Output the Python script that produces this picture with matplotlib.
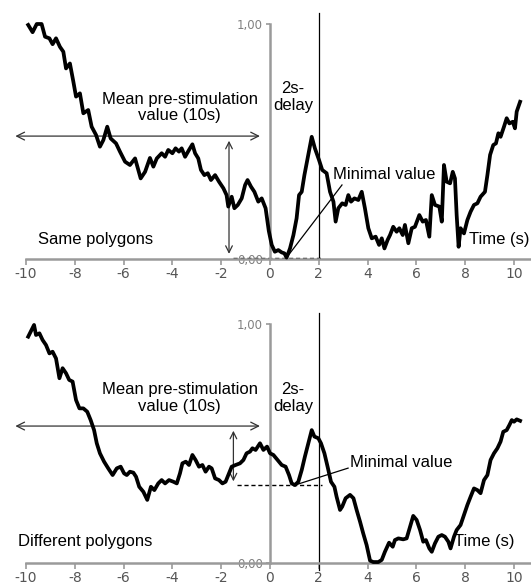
import matplotlib.pyplot as plt
import numpy as np

# time axis (s) and normalised signal for the two conditions
same_t = [-9.91, -9.73, -9.56, -9.36, -9.22, -9.04, -8.91, -8.77, -8.61, -8.47, -8.36, -8.20, -8.06, -7.95,
          -7.79, -7.65, -7.45, -7.31, -7.13, -6.97, -6.83, -6.67, -6.53, -6.31, -6.15, -5.94, -5.74, -5.53,
          -5.30, -5.12, -4.92, -4.78, -4.64, -4.44, -4.30, -4.17, -4.00, -3.87, -3.73, -3.62, -3.48, -3.32,
          -3.18, -3.07, -2.94, -2.83, -2.69, -2.55, -2.42, -2.25, -2.09, -1.91, -1.78, -1.71, -1.57, -1.46,
          -1.32, -1.16, -1.02, -0.92, -0.78, -0.64, -0.48, -0.34, -0.18, -0.05, 0.07, 0.20, 0.34, 0.48,
          0.59, 0.68, 0.82, 0.96, 1.09, 1.19, 1.30, 1.41, 1.54, 1.71, 1.84, 2.01, 2.14, 2.32, 2.46, 2.60,
          2.69, 2.80, 2.96, 3.10, 3.21, 3.32, 3.46, 3.62, 3.76, 3.89, 4.03, 4.17, 4.33, 4.47, 4.58, 4.69,
          4.82, 4.92, 5.05, 5.19, 5.30, 5.44, 5.53, 5.67, 5.81, 5.94, 6.12, 6.26, 6.39, 6.53, 6.63, 6.76,
          6.94, 7.04, 7.13, 7.24, 7.38, 7.49, 7.58, 7.65, 7.73, 7.81, 7.95, 8.09, 8.22, 8.36, 8.50, 8.63,
          8.81, 8.91, 9.02, 9.15, 9.26, 9.36, 9.45, 9.59, 9.70, 9.81, 9.95, 10.04, 10.11, 10.25]
same_v = [0.996, 0.965, 1.000, 1.000, 0.946, 0.939, 0.914, 0.939, 0.903, 0.882, 0.811, 0.832, 0.755, 0.691,
          0.705, 0.620, 0.634, 0.563, 0.528, 0.478, 0.506, 0.563, 0.513, 0.492, 0.457, 0.414, 0.400, 0.428,
          0.343, 0.371, 0.430, 0.393, 0.428, 0.450, 0.435, 0.464, 0.450, 0.471, 0.457, 0.471, 0.435, 0.464,
          0.488, 0.450, 0.428, 0.379, 0.357, 0.365, 0.336, 0.357, 0.329, 0.301, 0.272, 0.223, 0.265, 0.216,
          0.230, 0.258, 0.315, 0.336, 0.308, 0.286, 0.244, 0.258, 0.216, 0.120, 0.060, 0.031, 0.038, 0.028,
          0.024, 0.006, 0.045, 0.102, 0.173, 0.272, 0.286, 0.357, 0.428, 0.520, 0.471, 0.421, 0.379, 0.365,
          0.286, 0.244, 0.159, 0.216, 0.237, 0.230, 0.272, 0.244, 0.258, 0.251, 0.286, 0.216, 0.131, 0.088,
          0.095, 0.060, 0.088, 0.045, 0.081, 0.102, 0.137, 0.116, 0.131, 0.102, 0.145, 0.067, 0.131, 0.137,
          0.187, 0.159, 0.166, 0.095, 0.272, 0.230, 0.223, 0.159, 0.400, 0.329, 0.322, 0.371, 0.343, 0.187,
          0.052, 0.131, 0.109, 0.166, 0.201, 0.230, 0.237, 0.265, 0.286, 0.357, 0.443, 0.485, 0.492, 0.535,
          0.520, 0.563, 0.599, 0.577, 0.584, 0.556, 0.627, 0.669]

diff_t = [-9.91, -9.77, -9.67, -9.59, -9.45, -9.32, -9.18, -9.04, -8.91, -8.77, -8.63, -8.50, -8.36, -8.23,
          -8.09, -7.95, -7.81, -7.65, -7.49, -7.35, -7.21, -7.10, -6.97, -6.80, -6.63, -6.45, -6.28, -6.12,
          -5.98, -5.87, -5.74, -5.60, -5.49, -5.36, -5.19, -5.03, -4.88, -4.74, -4.58, -4.44, -4.30, -4.14,
          -3.96, -3.82, -3.69, -3.59, -3.45, -3.32, -3.18, -3.05, -2.91, -2.77, -2.64, -2.50, -2.39, -2.25,
          -2.09, -1.95, -1.82, -1.71, -1.57, -1.41, -1.23, -1.09, -0.96, -0.82, -0.72, -0.59, -0.41, -0.27,
          -0.12, 0.00, 0.14, 0.31, 0.48, 0.64, 0.78, 0.89, 1.02, 1.16, 1.30, 1.43, 1.57, 1.71, 1.82, 1.98,
          2.09, 2.23, 2.36, 2.50, 2.64, 2.73, 2.87, 2.96, 3.10, 3.28, 3.42, 3.55, 3.69, 3.82, 3.96, 4.10,
          4.23, 4.44, 4.58, 4.71, 4.88, 5.03, 5.12, 5.26, 5.46, 5.60, 5.74, 5.87, 6.01, 6.15, 6.28, 6.39,
          6.53, 6.63, 6.76, 6.90, 7.04, 7.17, 7.31, 7.40, 7.54, 7.65, 7.81, 7.95, 8.09, 8.22, 8.36, 8.50,
          8.63, 8.77, 8.91, 9.04, 9.18, 9.32, 9.45, 9.56, 9.70, 9.81, 9.91, 10.00, 10.11, 10.25]
diff_v = [0.947, 0.975, 0.996, 0.954, 0.961, 0.933, 0.912, 0.877, 0.884, 0.856, 0.773, 0.815, 0.794, 0.766,
          0.759, 0.682, 0.647, 0.647, 0.633, 0.598, 0.556, 0.501, 0.459, 0.424, 0.396, 0.368, 0.396, 0.403,
          0.375, 0.368, 0.382, 0.378, 0.361, 0.319, 0.298, 0.264, 0.319, 0.305, 0.333, 0.347, 0.333, 0.347,
          0.340, 0.333, 0.375, 0.417, 0.424, 0.410, 0.452, 0.431, 0.403, 0.410, 0.382, 0.403, 0.396, 0.354,
          0.347, 0.333, 0.340, 0.368, 0.403, 0.410, 0.417, 0.431, 0.459, 0.466, 0.480, 0.473, 0.501, 0.473,
          0.487, 0.459, 0.452, 0.431, 0.410, 0.403, 0.368, 0.333, 0.326, 0.340, 0.389, 0.445, 0.501, 0.556,
          0.529, 0.522, 0.501, 0.459, 0.403, 0.340, 0.319, 0.277, 0.222, 0.236, 0.271, 0.285, 0.271, 0.222,
          0.173, 0.124, 0.075, 0.010, 0.004, 0.004, 0.013, 0.047, 0.085, 0.068, 0.096, 0.103, 0.099, 0.103,
          0.152, 0.197, 0.180, 0.138, 0.089, 0.096, 0.061, 0.047, 0.082, 0.110, 0.117, 0.110, 0.089, 0.061,
          0.110, 0.138, 0.159, 0.201, 0.243, 0.277, 0.312, 0.305, 0.292, 0.347, 0.368, 0.431, 0.459, 0.480,
          0.508, 0.549, 0.556, 0.577, 0.598, 0.591, 0.601, 0.595]

# mean of the 10 s before stimulation for each condition
same_mean = 0.523
diff_mean = 0.573

x_ticks = [-10, -8, -6, -4, -2, 0, 2, 4, 6, 8, 10]
y_ticks = [0, 1]
y_ticklabels = ['0,00', '1,00']

W, H = 531, 587
fig = plt.figure(figsize=(W / 100, H / 100), dpi=100)

TXT = dict(family='Liberation Sans', fontsize=12, color='black')
AXIS_GREY = '#9a9a9a'


def draw_panel(ax, t, v, mean_val, name, mean_txt_y, vert_x, min_txt_xy, min_line_start, time_xy, name_xy,
               delay_bottom=0.0):
    t = np.array(t)
    v = np.array(v)
    # axes through the origin
    for s in ['top', 'right']:
        ax.spines[s].set_visible(False)
    ax.spines['left'].set_position(('data', 0))
    ax.spines['bottom'].set_position(('data', 0))
    ax.spines['left'].set_bounds(0, 1)
    ax.spines['bottom'].set_bounds(-10, ax.get_xlim()[1])
    for s in ['left', 'bottom']:
        ax.spines[s].set_color(AXIS_GREY)
        ax.spines[s].set_linewidth(1.8)
    ax.set_xticks(x_ticks)
    ax.set_xticklabels([str(x) for x in x_ticks])
    ax.set_yticks(y_ticks)
    ax.set_yticklabels(y_ticklabels)
    ax.tick_params(axis='x', direction='out', length=4, width=1.2, color=AXIS_GREY,
                   labelsize=10, labelcolor='#555555', pad=2)
    ax.tick_params(axis='y', direction='out', length=3, width=1.2, color=AXIS_GREY,
                   labelsize=8.5, labelcolor='#808080', pad=2)
    ax.patch.set_visible(False)

    # 2 s delay marker
    ax.plot([2, 2], [ax.get_ylim()[1] - 0.055, delay_bottom], color='black', lw=0.9)

    ax.plot(t, v, color='black', lw=2.7, solid_joinstyle='round', zorder=5)

    # minimum within the 2 s window after onset
    win = (t >= 0) & (t <= 2)
    i_min = np.argmin(np.where(win, v, np.inf))
    t_min, v_min = t[i_min], v[i_min]
    ax.plot([vert_x + 0.15, 2.15], [v_min, v_min], color='black', lw=1, ls=(0, (3, 2)))

    # mean pre-stimulation value
    ax.annotate('', xy=(-10.55, mean_val), xytext=(-0.3, mean_val),
                arrowprops=dict(arrowstyle='<->', color='#333333', lw=0.9, mutation_scale=14))
    ax.annotate('', xy=(vert_x, mean_val - 0.008), xytext=(vert_x, v_min + 0.004),
                arrowprops=dict(arrowstyle='<->', color='#333333', lw=0.9, mutation_scale=12))
    ax.text(-3.7, mean_txt_y, 'Mean pre-stimulation\nvalue (10s)', ha='center', va='center',
            linespacing=1.15, **TXT)
    ax.text(0.95, 0.69, '2s-\ndelay', ha='center', va='center', linespacing=1.15, **TXT)

    ax.text(min_txt_xy[0], min_txt_xy[1], 'Minimal value', ha='left', va='center', **TXT)
    ax.plot([min_line_start[0], t_min], [min_line_start[1], v_min], color='black', lw=0.9)

    ax.text(name_xy[0], name_xy[1], name, ha='left', va='center', **TXT)
    ax.text(time_xy[0], time_xy[1], 'Time (s)', ha='left', va='center', zorder=6, **TXT)


# top panel: px 0..293, origin at (270, 259), 24.4 px/s, 235 px/unit
ax1 = fig.add_axes([0, (H - 293) / H, 1, 293 / H])
ax1.set_xlim((0 - 270) / 24.4, (W - 270) / 24.4)
ax1.set_ylim((259 - 293) / 235, (259 - 0) / 235)
draw_panel(ax1, same_t, same_v, same_mean, 'Same polygons', 0.645, -1.68,
           (2.58, 0.36), (2.95, 0.315), (8.15, 0.081), (-9.51, 0.081))

# bottom panel: px 300..587, origin at (270, 563), 239 px/unit
ax2 = fig.add_axes([0, 0, 1, 287 / H])
ax2.set_xlim((0 - 270) / 24.4, (W - 270) / 24.4)
ax2.set_ylim((563 - 587) / 239, (563 - 300) / 239)
draw_panel(ax2, diff_t, diff_v, diff_mean, 'Different polygons', 0.69, -1.5,
           (3.28, 0.42), (3.2, 0.397), (7.54, 0.088), (-10.33, 0.088), delay_bottom=-0.03)

plt.savefig('out.png', dpi=100)
